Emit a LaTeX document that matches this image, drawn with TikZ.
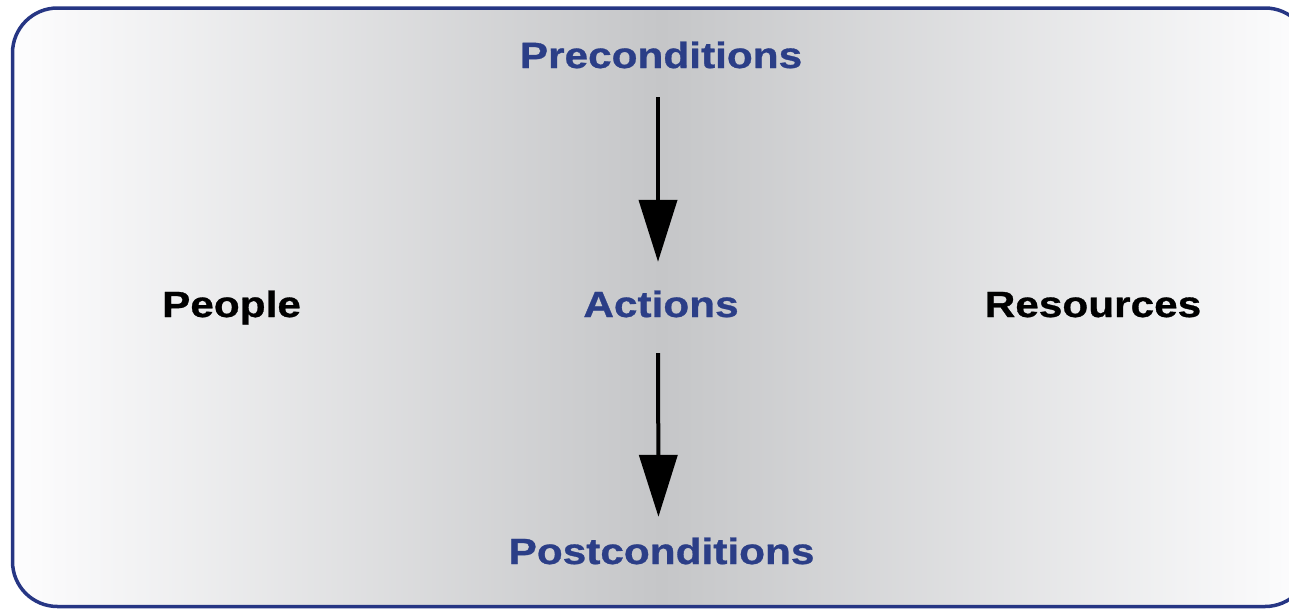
\documentclass[tikz,border=0pt]{standalone}
\usepackage{fontspec}
\setmainfont{Liberation Sans}[FakeStretch=1.16, BoldFeatures={FakeBold=0.8}]
\usetikzlibrary{arrows.meta}
\definecolor{frameblue}{RGB}{38,54,132}
\definecolor{labelblue}{RGB}{43,62,135}
\definecolor{midgray}{RGB}{197,198,200}
\definecolor{edgewhite}{RGB}{253,253,254}
\tikzset{
  label/.style={inner sep=0pt, text height=25pt, text depth=0pt, anchor=base,
    font=\bfseries\fontsize{36.5}{42}\selectfont},
  step label/.style={label, text=labelblue},
  side label/.style={label, text=black},
  flow/.style={line width=4pt, -{Triangle[length=62pt,width=38pt]}},
}
\begin{document}
\begin{tikzpicture}[x=1pt,y=-1pt]
  \useasboundingbox (0,0) rectangle (1289,608);
  % framed background with horizontal gray band
  \begin{scope}
    \clip (0,0) rectangle (1289,608);
    \draw[frameblue, line width=3.5pt, rounded corners=45pt,
      left color=edgewhite, right color=edgewhite, middle color=midgray]
      (12.5,8) rectangle (1310,606.5);
  \end{scope}
  % labels
  \node[step label] (pre)  at (661,68)   {Preconditions};
  \node[step label] (act)  at (661,317)  {Actions};
  \node[step label] (post) at (661.5,564) {Postconditions};
  \node[side label] (ppl)  at (231.5,317) {People};
  \node[side label] (res)  at (1093,317) {Resources};
  % flow arrows
  \draw[flow, shorten <=29pt, shorten >=30pt]
    ([xshift=-3pt]pre.south) -- ([xshift=-3pt]act.north);
  \draw[flow, shorten <=36pt, shorten >=22pt]
    ([xshift=-3pt]act.south) -- ([xshift=-3pt]post.north);
\end{tikzpicture}
\end{document}
